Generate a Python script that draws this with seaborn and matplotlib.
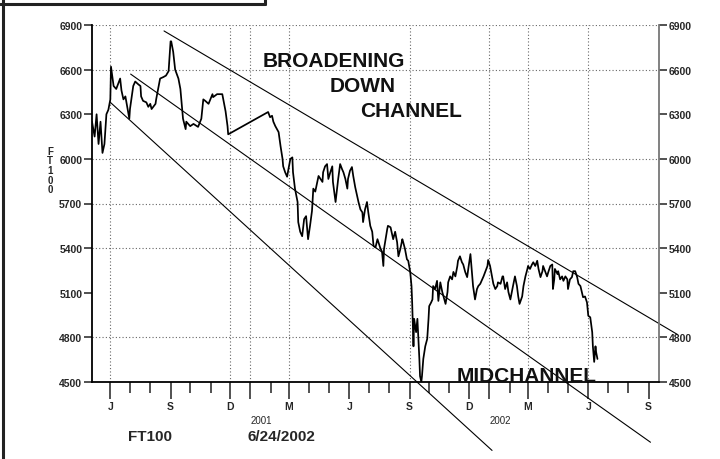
import pandas as pd
import matplotlib.pyplot as plt
import matplotlib.dates as mdates
from matplotlib.lines import Line2D
from matplotlib.ticker import FuncFormatter
import seaborn as sns

# -------------------------------
# Data
# -------------------------------
base_date = pd.Timestamp('2000-05-01')

day_offsets = [3, 7, 10, 13, 16, 19, 22, 25, 28, 31, 32, 36, 40, 46, 48, 51, 54, 60, 61, 66,
               69, 74, 77, 78, 81, 86, 89, 92, 94, 100, 101, 107, 112, 116, 120, 123, 124, 127, 130, 135,
               138, 142, 146, 147, 153, 158, 165, 170, 173, 176, 181, 187, 188, 194, 202, 207, 210, 211,
               272, 275, 278, 280, 283, 288, 291, 294, 295, 298, 301, 303, 306, 309, 310, 313, 317, 318,
               321, 324, 327, 330, 333, 336, 339, 341, 344, 349, 352, 355, 356, 359, 362, 364, 367, 370,
               371, 375, 379, 382, 385, 387, 390, 393, 394, 397, 400, 402, 405, 408, 410, 413, 416, 417,
               420, 423, 425, 428, 431, 433, 436, 439, 443, 446, 448, 449, 454, 455, 459, 462, 463, 466,
               469, 471, 474, 477, 478, 481, 484, 486, 489, 491, 492, 494, 495, 498, 500, 501, 503, 504,
               506, 507, 509, 512, 515, 517, 518, 521, 523, 524, 527, 530, 532, 535, 538, 543, 546, 547,
               550, 553, 555, 558, 561, 562, 565, 568, 570, 573, 576, 578, 581, 585, 588, 591, 593, 596,
               601, 607, 608, 611, 614, 616, 619, 622, 623, 627, 630, 631, 634, 637, 639, 642, 645, 646,
               649, 652, 654, 656, 660, 662, 665, 668, 669, 672, 675, 677, 680, 683, 685, 688, 691, 692,
               695, 698, 700, 703, 706, 707, 709, 710, 714, 715, 718, 721, 723, 726, 729, 730, 733, 736,
               738, 741, 744, 746, 749, 752, 753, 756, 759, 761, 764, 767, 768, 770, 772, 773, 775]

ft100 = [6250, 6150, 6300, 6100, 6250, 6040, 6100, 6300, 6330, 6400, 6620, 6490, 6470, 6540, 6460, 6400, 6420, 6270, 6335, 6490,
         6520, 6500, 6490, 6420, 6390, 6380, 6350, 6370, 6335, 6370, 6400, 6540, 6550, 6560, 6590, 6790, 6790, 6720, 6600, 6540,
         6470, 6270, 6200, 6250, 6220, 6235, 6215, 6270, 6400, 6390, 6370, 6435, 6415, 6435, 6435, 6320, 6220, 6165,
         6315, 6280, 6290, 6250, 6220, 6180, 6085, 6000, 5950, 5910, 5880, 5930, 6000, 6010, 5910, 5800, 5710, 5575,
         5510, 5480, 5595, 5615, 5460, 5550, 5650, 5800, 5780, 5885, 5865, 5845, 5910, 5950, 5965, 5865, 5910, 5950,
         5845, 5710, 5865, 5965, 5930, 5910, 5865, 5800, 5865, 5920, 5945, 5885, 5810, 5750, 5710, 5660, 5640, 5575,
         5660, 5710, 5640, 5550, 5510, 5415, 5405, 5460, 5405, 5375, 5280, 5395, 5530, 5550, 5540, 5480, 5460, 5510,
         5440, 5345, 5395, 5460, 5445, 5395, 5325, 5315, 5240, 5145, 5035, 4740, 4925, 4835, 4925, 4835, 4655, 4540,
         4500, 4540, 4655, 4740, 4790, 4925, 5010, 5035, 5055, 5145, 5125, 5180, 5045, 5170, 5105, 5025, 5105, 5170,
         5210, 5190, 5240, 5210, 5280, 5315, 5345, 5305, 5290, 5240, 5205, 5270, 5360, 5145, 5055, 5125, 5145, 5160,
         5210, 5280, 5320, 5280, 5210, 5160, 5125, 5145, 5170, 5160, 5210, 5210, 5125, 5170, 5105, 5055, 5125, 5145,
         5210, 5145, 5075, 5025, 5075, 5145, 5210, 5260, 5280, 5260, 5290, 5305, 5280, 5315, 5260, 5205, 5245, 5280,
         5245, 5210, 5240, 5280, 5290, 5125, 5190, 5260, 5225, 5245, 5190, 5210, 5180, 5210, 5190, 5125, 5190, 5205,
         5245, 5245, 5205, 5160, 5145, 5090, 5070, 5075, 5035, 4945, 4935, 4835, 4740, 4635, 4740, 4700, 4655]

# channel lines: start / end points
upper_dates = ['2000-08-22', '2002-10-15']
upper_vals = [6860, 4820]
mid_dates = ['2000-07-02', '2002-09-04']
mid_vals = [6570, 4095]
lower_dates = ['2000-06-01', '2002-01-05']
lower_vals = [6380, 4040]

y_ticks = [4500, 4800, 5100, 5400, 5700, 6000, 6300, 6600, 6900]
y_grid = [4800, 5400, 5700, 6000, 6600, 6900]
x_grid = ['2000-06-01', '2000-12-01', '2001-01-01', '2001-03-01',
          '2001-09-01', '2002-01-01', '2002-03-01', '2002-06-01']
year_labels = ['2001', '2002']
x_range = ['2000-05-04', '2002-09-17']

df = pd.DataFrame({'date': base_date + pd.to_timedelta(day_offsets, unit='D'),
                   'close': ft100})

# -------------------------------
# Style
# -------------------------------
sns.set_style('white')
plt.rcParams['font.family'] = ['Liberation Sans', 'DejaVu Sans']

fig = plt.figure(figsize=(7.2, 4.6), dpi=100)
ax = fig.add_axes([92/720, 1 - 383/460, (659 - 92)/720, (383 - 26)/460])
ax.grid(False)

# grid (only some lines are drawn in the original)
for v in y_grid:
    ax.axhline(v, color='#666666', lw=0.8, ls=(0, (1, 2)), zorder=0)
for d in x_grid:
    ax.axvline(pd.Timestamp(d), color='#666666', lw=0.8, ls=(0, (1, 2)), zorder=0)

sns.lineplot(data=df, x='date', y='close', ax=ax, color='black', lw=1.25,
             estimator=None, sort=True)

# channel lines
for dts, vals in [(upper_dates, upper_vals), (mid_dates, mid_vals), (lower_dates, lower_vals)]:
    ax.plot(pd.to_datetime(dts), vals, color='black', lw=0.8, clip_on=False)

ax.set_xlim(pd.Timestamp(x_range[0]), pd.Timestamp(x_range[1]))
ax.set_ylim(4500, 6900)
ax.set_xlabel('')
ax.set_ylabel('')

# y axis both sides
ax.set_yticks(y_ticks)
ax.tick_params(axis='y', which='major', left=True, right=True, labelleft=True, labelright=True,
               direction='out', length=6, width=1.1, pad=1, labelsize=7.5, color='#222222')
for lab in ax.get_yticklabels():
    lab.set_fontweight('bold')

# x axis: month ticks, letters every quarter
ax.xaxis.set_major_locator(mdates.MonthLocator(bymonth=[1, 3, 6, 9, 12]))
ax.xaxis.set_minor_locator(mdates.MonthLocator())
ax.xaxis.set_major_formatter(FuncFormatter(
    lambda x, pos: '' if mdates.num2date(x).month == 1 else mdates.num2date(x).strftime('%b')[0]))
ax.tick_params(axis='x', which='major', bottom=True, direction='out', length=12, width=1.1,
               pad=2, labelsize=7.5, color='#222222')
ax.tick_params(axis='x', which='minor', bottom=True, direction='out', length=8, width=1.1,
               color='#222222')
for lab in ax.get_xticklabels():
    lab.set_fontweight('bold')

for y in year_labels:
    ax.text(pd.Timestamp(y + '-01-01'), -0.115, y, transform=ax.get_xaxis_transform(),
            ha='left', va='baseline', fontsize=7)

ax.spines['top'].set_visible(False)
ax.spines['left'].set_color('black')
ax.spines['left'].set_linewidth(1.3)
ax.spines['bottom'].set_color('black')
ax.spines['bottom'].set_linewidth(1.3)
ax.spines['right'].set_color('#777777')
ax.spines['right'].set_linewidth(1.3)

# annotations
fig.text(263/720, 1 - 67/460, 'BROADENING', fontsize=15, weight='bold', va='baseline', color='#111111')
fig.text(330/720, 1 - 92/460, 'DOWN', fontsize=15, weight='bold', va='baseline', color='#111111')
fig.text(360/720, 1 - 117/460, 'CHANNEL', fontsize=15, weight='bold', va='baseline', color='#111111')
fig.text(457/720, 1 - 382/460, 'MIDCHANNEL', fontsize=15, weight='bold', va='baseline', color='#111111')

fig.text(50/720, 1 - 171/460, 'F\nT\n1\n0\n0', fontsize=7, weight='bold', ha='center', va='center',
         linespacing=0.95)
fig.text(128/720, 1 - 441/460, 'FT100', fontsize=11, weight='bold', va='baseline')
fig.text(247/720, 1 - 441/460, '6/24/2002', fontsize=11, weight='bold', va='baseline')

# frame pieces
fig.add_artist(Line2D([3/720, 3/720], [0, 1], transform=fig.transFigure, color='#222222', lw=2.2))
fig.add_artist(Line2D([0, 265/720], [1 - 5/460, 1 - 5/460], transform=fig.transFigure, color='#222222', lw=2.2))
fig.add_artist(Line2D([265/720, 265/720], [1 - 5/460, 1], transform=fig.transFigure, color='#222222', lw=2.2))

fig.savefig('out.png', dpi=100)
